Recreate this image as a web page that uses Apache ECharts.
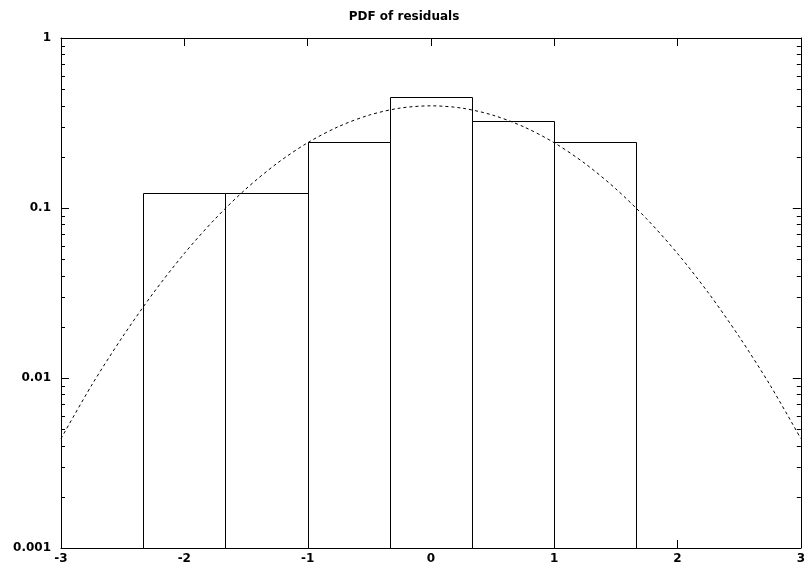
<!DOCTYPE html>
<html>
<head>
<meta charset="utf-8">
<script src="https://cdn.jsdelivr.net/npm/echarts@6/dist/echarts.min.js"></script>
<style>
html, body { margin: 0; padding: 0; background: #fff; }
#main { width: 808px; height: 575px; }
</style>
</head>
<body>
<div id="main"></div>
<script>
// histogram bins: left edge, right edge, density
var binLeft = [-2.333, -1.667, -1, -0.333, 0.333, 1];
var binRight = [-1.667, -1, -0.333, 0.333, 1, 1.667];
var binValue = [0.122, 0.122, 0.244, 0.45, 0.325, 0.244];

// fitted pdf curve
var curveX = [-3, -2.75, -2.5, -2.25, -2, -1.75, -1.5, -1.25, -1, -0.75, -0.5, -0.25, 0,
	0.25, 0.5, 0.75, 1, 1.25, 1.5, 1.75, 2, 2.25, 2.5, 2.75, 3];
var curveY = [0.0044, 0.0091, 0.0175, 0.0317, 0.054, 0.0863, 0.1295, 0.1826, 0.242, 0.301, 0.352, 0.387, 0.399,
	0.387, 0.352, 0.301, 0.242, 0.1826, 0.1295, 0.0863, 0.054, 0.0317, 0.0175, 0.0091, 0.0044];

// log axis minor ticks
var minorTicks = [0.002, 0.003, 0.004, 0.005, 0.006, 0.007, 0.008, 0.009,
	0.02, 0.03, 0.04, 0.05, 0.06, 0.07, 0.08, 0.09,
	0.2, 0.3, 0.4, 0.5, 0.6, 0.7, 0.8, 0.9];

var xMin = -3, xMax = 3, yMin = 0.001, yMax = 1;
var font = 'DejaVu Sans';

var myChart = echarts.init(document.getElementById('main'));

var barData = [];
for (var i = 0; i < binLeft.length; i++) {
	barData.push([binLeft[i], binRight[i], binValue[i]]);
}
var curveData = [];
for (var i = 0; i < curveX.length; i++) {
	curveData.push([curveX[i], curveY[i]]);
}
var minorData = [];
for (var i = 0; i < minorTicks.length; i++) {
	minorData.push([xMin, minorTicks[i]]);
}

function renderBar(params, api) {
	var p0 = api.coord([api.value(0), api.value(2)]);
	var p1 = api.coord([api.value(1), yMin]);
	var x0 = Math.round(p0[0]), x1 = Math.round(p1[0]);
	var y0 = Math.round(p0[1]), y1 = Math.round(p1[1]);
	return {
		type: 'rect',
		shape: {x: x0 + 0.5, y: y0 + 0.5, width: x1 - x0, height: y1 - y0},
		style: {fill: '#fff', stroke: '#000', lineWidth: 1}
	};
}

function renderMinorTick(params, api) {
	var l = api.coord([xMin, api.value(1)]);
	var r = api.coord([xMax, api.value(1)]);
	var y = Math.round(l[1]) + 0.5;
	return {
		type: 'group',
		children: [
			{type: 'line', shape: {x1: l[0], y1: y, x2: l[0] + 4, y2: y}, style: {stroke: '#000', lineWidth: 1}},
			{type: 'line', shape: {x1: r[0], y1: y, x2: r[0] - 4, y2: y}, style: {stroke: '#000', lineWidth: 1}}
		]
	};
}

var axisLine = {show: true, onZero: false, lineStyle: {color: '#000', width: 1}};
var option = {
	animation: false,
	backgroundColor: '#fff',
	title: {
		text: 'PDF of residuals',
		left: 'center',
		top: 6,
		textStyle: {fontFamily: font, fontSize: 12, fontWeight: 'bold', color: '#000'}
	},
	grid: {left: 61, right: 7, top: 38, bottom: 27},
	xAxis: [
		{
			type: 'value', min: xMin, max: xMax, interval: 1, position: 'bottom',
			axisLine: axisLine,
			axisTick: {show: true, inside: true, length: 8, lineStyle: {color: '#000'}},
			axisLabel: {color: '#000', fontFamily: font, fontSize: 12, fontWeight: 'bold', margin: 5},
			splitLine: {show: false}
		},
		{
			type: 'value', min: xMin, max: xMax, interval: 1, position: 'top',
			axisLine: axisLine,
			axisTick: {show: true, inside: true, length: 8, lineStyle: {color: '#000'}},
			axisLabel: {show: false},
			splitLine: {show: false}
		}
	],
	yAxis: [
		{
			type: 'log', logBase: 10, min: yMin, max: yMax, position: 'left',
			axisLine: axisLine,
			axisTick: {show: true, inside: true, length: 8, lineStyle: {color: '#000'}},
			axisLabel: {color: '#000', fontFamily: font, fontSize: 12, fontWeight: 'bold', margin: 10},
			splitLine: {show: false}
		},
		{
			type: 'log', logBase: 10, min: yMin, max: yMax, position: 'right',
			axisLine: axisLine,
			axisTick: {show: true, inside: true, length: 8, lineStyle: {color: '#000'}},
			axisLabel: {show: false},
			splitLine: {show: false}
		}
	],
	series: [
		{
			type: 'custom',
			renderItem: renderBar,
			data: barData,
			encode: {x: [0, 1], y: 2},
			silent: true
		},
		{
			type: 'line',
			data: curveData,
			showSymbol: false,
			smooth: 0.3,
			lineStyle: {color: '#000', width: 1, type: [3, 3]},
			silent: true,
			z: 5
		},
		{
			type: 'custom',
			renderItem: renderMinorTick,
			data: minorData,
			silent: true,
			z: 6
		}
	]
};
myChart.setOption(option, true);
</script>
</body>
</html>
